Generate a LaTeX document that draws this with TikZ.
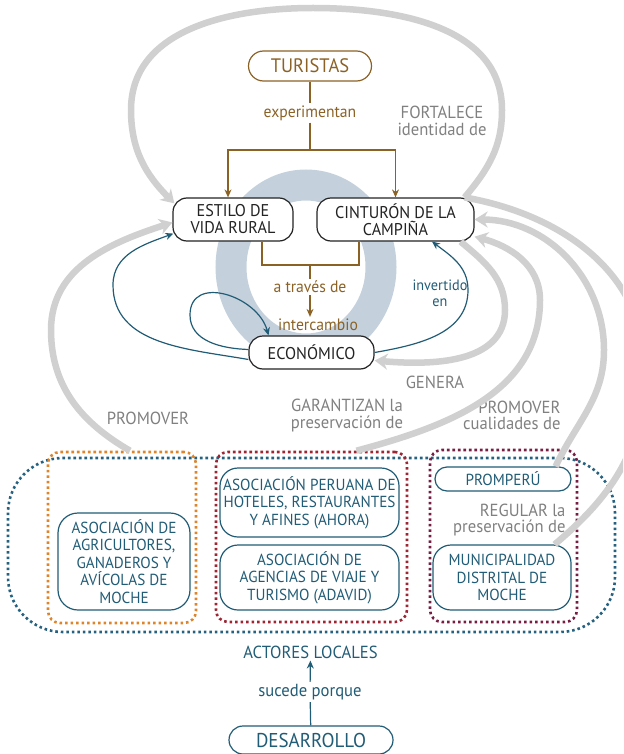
\documentclass[tikz,border=0pt]{standalone}
\usepackage{fontspec}
\setmainfont{PT Sans}[FakeStretch=0.95]
\usetikzlibrary{arrows.meta}
\definecolor{brownc}{RGB}{139,98,38}
\definecolor{tealc}{RGB}{33,92,118}
\definecolor{arcgray}{RGB}{208,208,208}
\definecolor{labgray}{RGB}{128,128,128}
\definecolor{ringc}{RGB}{196,209,221}
\definecolor{orangec}{RGB}{222,132,42}
\definecolor{redc}{RGB}{158,38,52}
\definecolor{maroonc}{RGB}{118,30,66}
\definecolor{dotblue}{RGB}{38,98,128}
\definecolor{darkc}{RGB}{35,35,35}
\tikzset{
  concept/.style={draw=darkc, line width=1.2pt, fill=white, rounded corners=14pt, text=darkc, align=center, font=\fontsize{17}{17}\selectfont, inner sep=2pt},
  actor/.style={draw=tealc, line width=1.2pt, fill=white, rounded corners=16pt, text=tealc, align=center, font=\fontsize{16}{17.5}\selectfont, inner sep=2pt},
  graylab/.style={text=labgray, align=center, font=\fontsize{17.5}{16.5}\selectfont},
  brownlab/.style={text=brownc, font=\fontsize{16.5}{17}\selectfont, inner sep=2pt},
  teallab/.style={text=tealc, align=center, font=\fontsize{17.5}{17}\selectfont, inner sep=2pt},
  grayarc/.style={draw=arcgray, line width=6.5pt, -{Stealth[length=13pt,width=16pt]}},
  grouping/.style={draw=#1, line width=2.6pt, dash pattern=on 2.6pt off 2.9pt, rounded corners=12pt},
  brownline/.style={draw=brownc, line width=1.2pt},
  brownarrow/.style={brownline, -{Stealth[length=8pt,width=7pt]}},
  tealline/.style={draw=tealc, line width=1.2pt},
  tealarrow/.style={tealline, -{Stealth[length=8pt,width=7pt]}},
}
\begin{document}
\begin{tikzpicture}[x=1pt,y=1pt]
\useasboundingbox (0,0) rectangle (623,-754);
\clip (0,0) rectangle (623,-754);
\draw[ringc, line width=31pt] (306,-267) ellipse (75 and 82);

\node[grouping=dotblue, minimum width=607pt, minimum height=174pt, rounded corners=55pt] (actoresbox) at (311.5,-545) {};
\node[grouping=orangec, minimum width=148pt, minimum height=171pt] (grpagro) at (122,-537.5) {};
\node[grouping=redc, minimum width=191pt, minimum height=170pt] (grpserv) at (311.5,-537) {};
\node[grouping=maroonc, minimum width=147pt, minimum height=172pt] (grpinst) at (503.5,-536) {};

\node[concept, draw=brownc, text=brownc, rounded corners=15pt, minimum width=123pt, minimum height=30pt, font=\fontsize{19.5}{20}\selectfont] (turistas) at (310,-66) {TURISTAS};
\node[brownlab] (exp) at (310,-113) {experimentan};
\node[graylab] (fortalece) at (442,-121) {FORTALECE\\identidad de};
\node[concept, minimum width=120pt, minimum height=43pt] (estilo) at (233,-219.5) {ESTILO DE\\VIDA RURAL};
\node[concept, minimum width=157pt, minimum height=43pt] (cinturon) at (395.5,-219.5) {CINTURÓN DE LA\\CAMPIÑA};
\node[brownlab] (atraves) at (310,-287) {a través de};
\node[brownlab] (intercambio) at (318,-325) {intercambio};
\node[concept, minimum width=125pt, minimum height=33pt] (econ) at (311.5,-352.5) {ECONÓMICO};
\node[teallab, font=\fontsize{15}{16}\selectfont] (invertido) at (440,-293) {invertido\\en};
\node[graylab] (genera) at (435,-382) {GENERA};
\node[graylab] (promover) at (148,-418) {PROMOVER};
\node[graylab] (garantizan) at (347,-415.5) {GARANTIZAN la\\preservación de};
\node[graylab, align=right, anchor=east] (cualidades) at (564,-415.5) {PROMOVER\\cualidades de};

\node[actor, rounded corners=20pt, minimum width=132pt, minimum height=97pt] (agro) at (124,-561.5) {ASOCIACIÓN DE\\AGRICULTORES,\\GANADEROS Y\\AVÍCOLAS DE\\MOCHE};
\node[actor, rounded corners=18pt, minimum width=179pt, minimum height=69pt] (ahora) at (309.5,-502.5) {ASOCIACIÓN PERUANA DE\\HOTELES, RESTAURANTES\\Y AFINES (AHORA)};
\node[actor, rounded corners=18pt, minimum width=179pt, minimum height=65pt] (adavid) at (309.5,-577.5) {ASOCIACIÓN DE\\AGENCIAS DE VIAJE Y\\TURISMO (ADAVID)};
\node[actor, rounded corners=12pt, minimum width=136pt, minimum height=24pt] (promperu) at (503,-479) {PROMPERÚ};
\node[graylab, align=right, anchor=east] (regular) at (569,-520) {REGULAR la\\preservación de};
\node[actor, rounded corners=18pt, minimum width=138pt, minimum height=65pt] (muni) at (502,-577.5) {MUNICIPALIDAD\\DISTRITAL DE\\MOCHE};

\node[teallab] (actores) at (310.5,-652) {ACTORES LOCALES};
\node[teallab] (sucede) at (310,-692) {sucede porque};
\node[actor, rounded corners=14pt, minimum width=164pt, minimum height=28pt, font=\fontsize{20}{20}\selectfont] (desarrollo) at (311,-740) {DESARROLLO};

\draw[grayarc] ([xshift=-10pt]cinturon.north east) to[out=50,in=-90] (502,-110) to[out=90,in=0] (313,-8) to[out=180,in=90] (131,-110) to[out=-90,in=135] ([shift={(2pt,-6pt)}]estilo.north west);
\draw[grayarc] ([xshift=8pt]grpagro.north) to[out=150,in=-90] (51,-330) to[out=90,in=198] ([yshift=-3pt]estilo.west);
\draw[grayarc] ([xshift=45pt]grpserv.north) to[out=15,in=-90] (540,-300) to[out=90,in=-15] ([yshift=5pt]cinturon.south east);
\draw[grayarc] ([xshift=-14pt]cinturon.south east) to[out=-40,in=90] (505,-310) to[out=-90,in=-5] ([yshift=-8pt]econ.east);
\draw[grayarc] ([xshift=-16pt]promperu.north east) to[out=65,in=-90] (604,-350) to[out=90,in=0] (cinturon.east);
\draw[grayarc, -] ([xshift=-17pt]muni.north east) to[out=40,in=-90] (645,-370) to[out=90,in=-10] ([xshift=-10pt]cinturon.north east);

\coordinate (jt) at (310,-150);
\coordinate (jb) at (310,-265);
\draw[brownline] (turistas) -- (exp);
\draw[brownline] (exp) -- (jt);
\draw[brownarrow] (jt) -| ([xshift=-5pt]estilo.north);
\draw[brownarrow] (jt) -| (cinturon.north);
\draw[brownline] ([xshift=29pt]estilo.south) |- (jb) -| ([xshift=-36.5pt]cinturon.south);
\draw[brownline] (jb) -- (atraves);
\draw[brownarrow] (atraves) -- (atraves |- intercambio.north);

\draw[tealarrow] ([yshift=-7pt]econ.west) to[out=170,in=-90] (113,-285) to[out=90,in=200] ([shift={(1pt,8pt)}]estilo.south west);
\draw[tealarrow] ([yshift=3pt]econ.west) to[out=178,in=-90] (190,-315) to[out=90,in=105,looseness=1.3] ([xshift=-43pt]econ.north);
\draw[tealarrow] (econ.east) to[out=10,in=-90] (468,-290) to[out=90,in=-37] ([xshift=36.5pt]cinturon.south);
\draw[tealarrow] (sucede) -- (actores);
\draw[tealline] (desarrollo) -- (sucede);
\end{tikzpicture}
\end{document}
